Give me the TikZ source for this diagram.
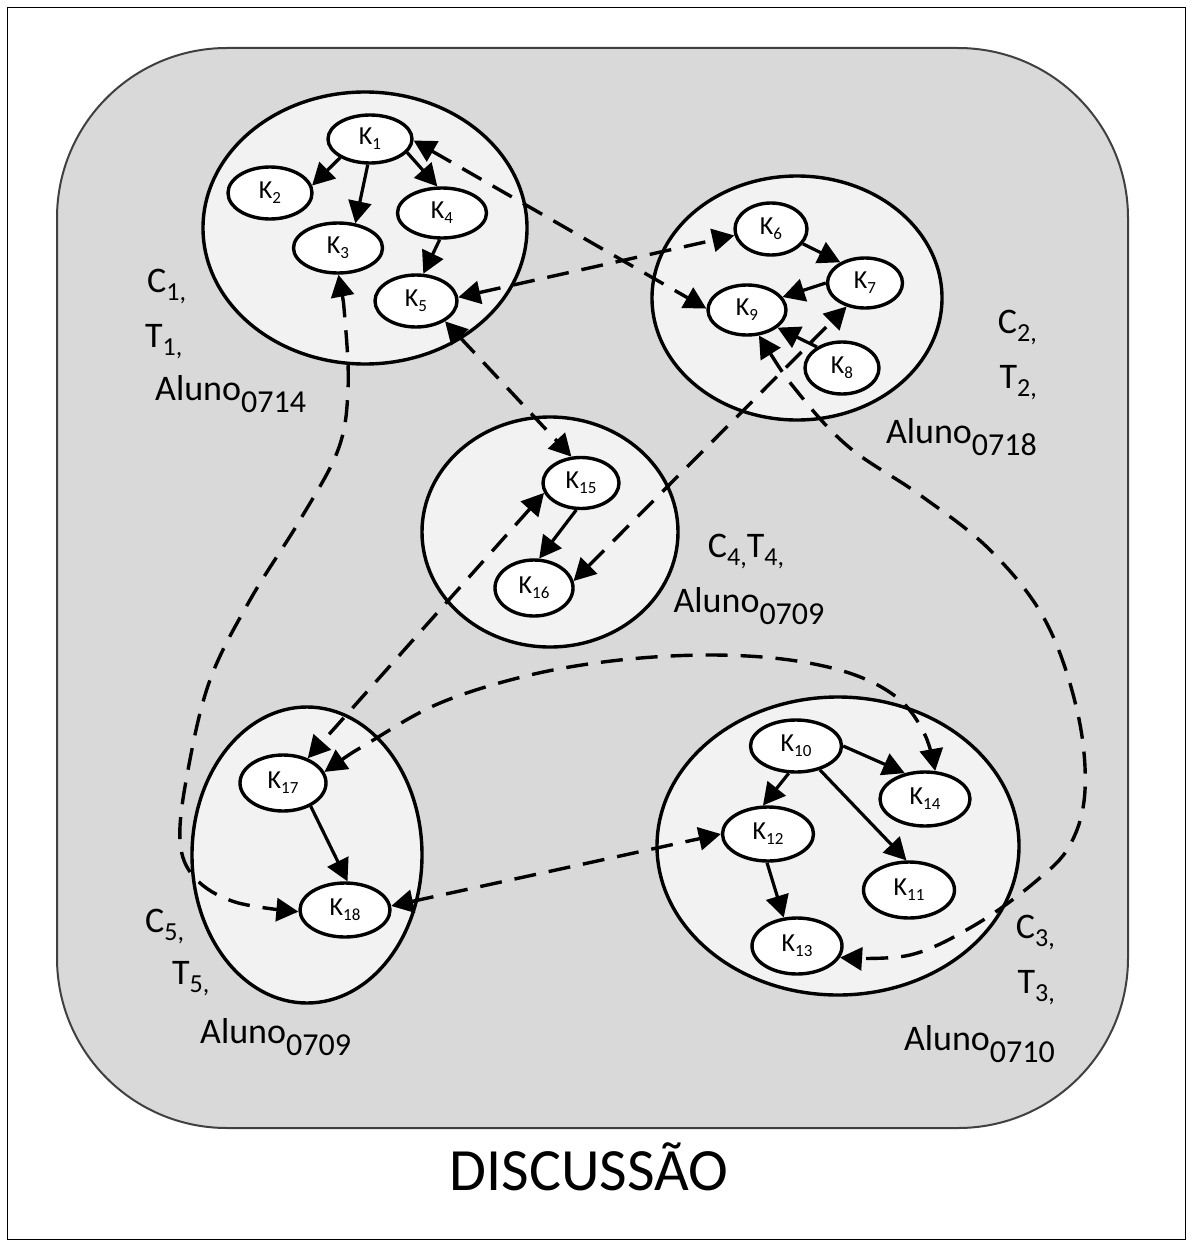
\documentclass[tikz,border=0pt]{standalone}
\usepackage{fontspec}
\setmainfont{Carlito}
\usetikzlibrary{shapes.geometric,arrows.meta}

\definecolor{panelfill}{HTML}{D9D9D9}
\definecolor{panelline}{HTML}{404040}
\definecolor{groupfill}{HTML}{F2F2F2}

% subscripts: concept index, group/student labels
\newcommand\kk[1]{K\raisebox{-5pt}{\fontsize{17}{17}\selectfont #1}}
\newcommand\sbc[1]{\raisebox{-8pt}{\fontsize{26}{26}\selectfont #1}}
\newcommand\sba[1]{\raisebox{-12pt}{\fontsize{32}{32}\selectfont #1}}

\begin{document}
\begin{tikzpicture}[x=1pt,y=-1pt,
  kn/.style={ellipse,draw,line width=3.4pt,fill=white,inner sep=0pt,
    font=\fontsize{26}{26}\selectfont},
  grp/.style={ellipse,draw,line width=3.4pt,fill=groupfill,inner sep=0pt},
  link/.style={line width=3.2pt,-{Triangle[length=22pt,width=23pt]}},
  xlink/.style={line width=3.4pt,dash pattern=on 22pt off 13pt,
    {Triangle[length=22pt,width=23pt]}-{Triangle[length=22pt,width=23pt]}},
  lab/.style={font=\fontsize{36}{36}\selectfont,inner sep=0pt},
]
\useasboundingbox (0,0) rectangle (1193,1247);

% outer frame and panel
\draw[line width=1.3pt] (7.5,7.5) rectangle (1185.5,1239.5);
\draw[line width=2pt,draw=panelline,fill=panelfill,rounded corners=170pt]
  (57,48) rectangle (1128,1128);

% groups
\node[grp,minimum width=324pt,minimum height=272pt] (C1) at (365,228) {};
\node[grp,minimum width=290pt,minimum height=244pt] (C2) at (797,298) {};
\node[grp,minimum width=256pt,minimum height=230pt] (C4) at (550,532) {};
\node[grp,minimum width=230pt,minimum height=296pt] (C5) at (307,855) {};
\node[grp,minimum width=362pt,minimum height=298pt] (C3) at (838,846) {};

% concepts
\node[kn,minimum width=84pt,minimum height=48pt] (K1) at (370,139) {\kk{1}};
\node[kn,minimum width=84pt,minimum height=52pt] (K2) at (270,193) {\kk{2}};
\node[kn,minimum width=89pt,minimum height=50pt] (K3) at (338,248) {\kk{3}};
\node[kn,minimum width=89pt,minimum height=50pt] (K4) at (442,213) {\kk{4}};
\node[kn,minimum width=82pt,minimum height=52pt] (K5) at (416,301) {\kk{5}};
\node[kn,minimum width=72pt,minimum height=52pt] (K6) at (771,229) {\kk{6}};
\node[kn,minimum width=75pt,minimum height=50pt] (K7) at (865,283) {\kk{7}};
\node[kn,minimum width=74pt,minimum height=52pt] (K8) at (842,368) {\kk{8}};
\node[kn,minimum width=78pt,minimum height=50pt] (K9) at (747,310) {\kk{9}};
\node[kn,minimum width=91pt,minimum height=52pt] (K10) at (796,746) {\kk{10}};
\node[kn,minimum width=91pt,minimum height=56pt] (K11) at (909,890) {\kk{11}};
\node[kn,minimum width=91pt,minimum height=54pt] (K12) at (768,834) {\kk{12}};
\node[kn,minimum width=90pt,minimum height=56pt] (K13) at (797,946) {\kk{13}};
\node[kn,minimum width=90pt,minimum height=54pt] (K14) at (925,799) {\kk{14}};
\node[kn,minimum width=76pt,minimum height=51pt] (K15) at (581,483) {\kk{15}};
\node[kn,minimum width=78pt,minimum height=56pt] (K16) at (534,588) {\kk{16}};
\node[kn,minimum width=86pt,minimum height=56pt] (K17) at (283,783) {\kk{17}};
\node[kn,minimum width=90pt,minimum height=54pt] (K18) at (345,910) {\kk{18}};

% links inside each group
\draw[link] (K1.212) -- (K2.10);
\draw[link] (K1.265) -- (K3.55);
\draw[link] (K1.-20) -- (K4.100);
\draw[link] (K4.265) -- (K5.75);
\draw[link] (K6.-25) -- (K7.140);
\draw[link] (K7.180) -- (K9.20);
\draw[link] (K8.140) -- (K9.-30);
\draw[link] (K15.260) -- (K16.80);
\draw[link] (K17.-40) -- (K18.85);
\draw[link] (K10.0) -- (K14.128);
\draw[link] (K10.255) -- (K12.100);
\draw[link] (K10.-45) -- (K11.95);
\draw[link] (K12.268) -- (K13.115);

% links between groups
\draw[xlink] (K1.-2) -- (K9.178);
\draw[xlink] (K5.5) -- (K6.190);
\draw[xlink] (K5.-35) -- (K15.110);
\draw[xlink] (K16.10) -- (K7.232);
\draw[xlink] (K15.195) -- (K17.45);
\draw[xlink] (K18.5) -- (K12.180);
\draw[xlink] plot[smooth,tension=0.6] coordinates {(K9.-65) (800,395) (850,448)
  (920,495) (990,550) (1045,620) (1077,710) (1085,790) (1070,845) (1035,882)
  (975,925) (910,955) (K13.-15)};
\draw[xlink] plot[smooth,tension=0.6] coordinates {(K3.271) (345,320) (348,390)
  (338,450) (300,520) (250,600) (210,680) (188,770) (180,840) (195,878)
  (235,902) (K18.182)};
\draw[xlink] plot[smooth,tension=0.6] coordinates {(K17.15) (370,742) (440,703)
  (530,675) (620,660) (710,655) (790,660) (855,675) (900,700) (925,735)
  (K14.70)};

% group labels
\node[lab,anchor=base west] (L1a) at (147,292) {C\sbc{1,}};
\node[lab,anchor=base west] (L1b) at (145,347) {T\sbc{1,}};
\node[lab,anchor=base west] (L1c) at (155,400) {Aluno\sba{0714}};

\node[lab,anchor=base east] (L2a) at (1037,333) {C\sbc{2,}};
\node[lab,anchor=base east] (L2b) at (1037,388) {T\sbc{2,}};
\node[lab,anchor=base east] (L2c) at (1037,443) {Aluno\sba{0718}};

\node[lab,anchor=base] (L4a) at (746,557) {C\sbc{4,}T\sbc{4,}};
\node[lab,anchor=base] (L4b) at (749,612) {Aluno\sba{0709}};

\node[lab,anchor=base west] (L5a) at (145,932) {C\sbc{5,}};
\node[lab,anchor=base west] (L5b) at (172,984) {T\sbc{5,}};
\node[lab,anchor=base west] (L5c) at (200,1043) {Aluno\sba{0709}};

\node[lab,anchor=base east] (L3a) at (1055,938) {C\sbc{3,}};
\node[lab,anchor=base east] (L3b) at (1055,993) {T\sbc{3,}};
\node[lab,anchor=base east] (L3c) at (1055,1050) {Aluno\sba{0710}};

\node[font=\fontsize{60}{60}\selectfont,inner sep=0pt,anchor=base] (title)
  at (589,1190) {DISCUSSÃO};
\end{tikzpicture}
\end{document}
